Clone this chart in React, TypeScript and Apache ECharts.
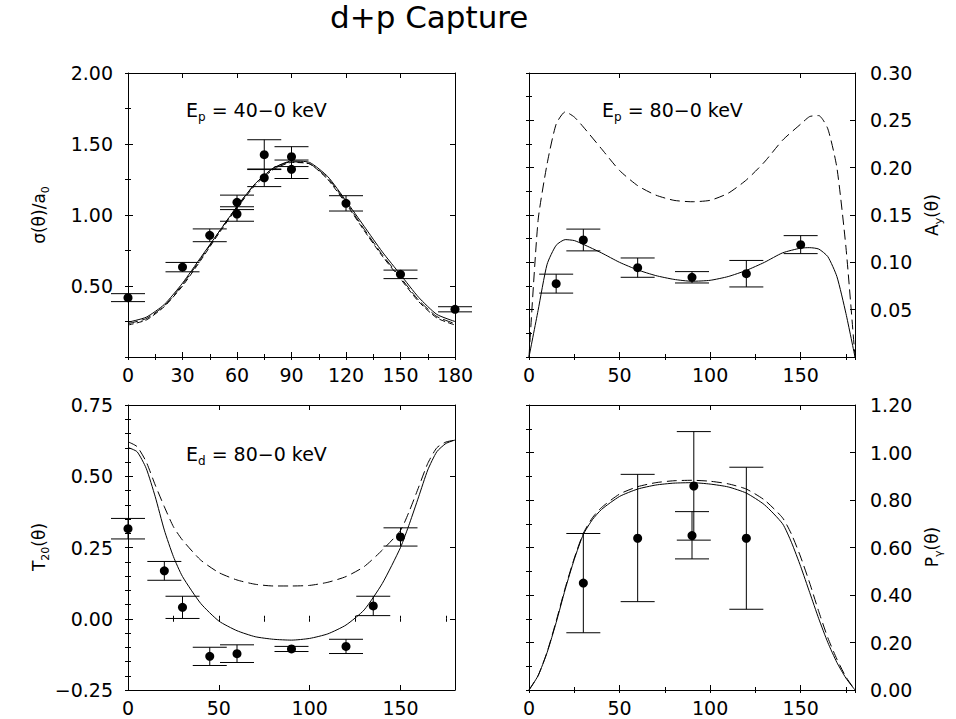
import React, { useEffect, useRef } from 'react';
import * as echarts from 'echarts';

const FONT = 'DejaVu Sans';

// ---------- Panel 1: sigma(theta)/a0, Ep = 40-0 keV ----------
const p1CurveX = [0, 10, 20, 30, 40, 50, 60, 70, 80, 90, 100, 110, 120, 130, 140, 150, 160, 170, 180];
const p1Solid = [0.245, 0.28, 0.37, 0.52, 0.70, 0.88, 1.06, 1.22, 1.33, 1.38, 1.37, 1.27, 1.10, 0.92, 0.74, 0.58, 0.42, 0.30, 0.25];
const p1DashA = [0.235, 0.27, 0.36, 0.51, 0.69, 0.88, 1.06, 1.22, 1.33, 1.375, 1.36, 1.26, 1.09, 0.90, 0.72, 0.56, 0.40, 0.285, 0.235];
const p1DashB = [0.225, 0.26, 0.355, 0.50, 0.68, 0.87, 1.05, 1.21, 1.32, 1.37, 1.36, 1.25, 1.08, 0.89, 0.71, 0.55, 0.39, 0.275, 0.225];
const p1X = [0, 30, 45, 60, 60, 75, 75, 90, 90, 120, 150, 180];
const p1Y = [0.418, 0.633, 0.857, 1.089, 1.007, 1.425, 1.262, 1.411, 1.322, 1.082, 0.582, 0.336];
const p1Err = [0.028, 0.033, 0.045, 0.051, 0.051, 0.105, 0.062, 0.07, 0.065, 0.054, 0.03, 0.018];

// ---------- Panel 2: Ay(theta), Ep = 80-0 keV ----------
const p2CurveX = [0, 5, 10, 15, 20, 25, 30, 40, 50, 60, 70, 80, 90, 100, 110, 120, 130, 140, 150, 155, 160, 165, 170, 175, 180];
const p2Solid = [0, 0.049, 0.098, 0.118, 0.124, 0.123, 0.119, 0.110, 0.100, 0.092, 0.086, 0.082, 0.080, 0.081, 0.085, 0.0915, 0.100, 0.110, 0.115, 0.1155, 0.114, 0.106, 0.085, 0.046, 0];
const p2Dash = [0, 0.144, 0.204, 0.246, 0.259, 0.2535, 0.243, 0.220, 0.197, 0.181, 0.171, 0.1655, 0.164, 0.1655, 0.173, 0.187, 0.206, 0.229, 0.246, 0.254, 0.255, 0.241, 0.200, 0.116, 0];
const p2X = [15, 30, 60, 90, 120, 150];
const p2Y = [0.0775, 0.1236, 0.0944, 0.0842, 0.088, 0.1187];
const p2Err = [0.010, 0.0115, 0.0102, 0.006, 0.014, 0.0095];

// ---------- Panel 3: T20(theta), Ed = 80-0 keV ----------
const p3CurveX = [0, 5, 10, 15, 20, 25, 30, 40, 50, 60, 70, 80, 90, 100, 110, 120, 130, 140, 150, 155, 160, 165, 170, 175, 180];
const p3Solid = [0.601, 0.586, 0.528, 0.428, 0.311, 0.218, 0.148, 0.054, -0.008, -0.042, -0.063, -0.072, -0.075, -0.069, -0.053, -0.022, 0.031, 0.124, 0.250, 0.335, 0.428, 0.522, 0.586, 0.615, 0.627];
const p3Dash = [0.621, 0.604, 0.551, 0.469, 0.393, 0.323, 0.276, 0.206, 0.162, 0.136, 0.121, 0.115, 0.115, 0.117, 0.128, 0.148, 0.183, 0.241, 0.310, 0.380, 0.462, 0.545, 0.600, 0.620, 0.627];
const p3X = [0, 20, 30, 45, 60, 90, 120, 135, 150];
const p3Y = [0.316, 0.168, 0.040, -0.132, -0.1225, -0.106, -0.097, 0.045, 0.287];
const p3Err = [0.036, 0.033, 0.039, 0.032, 0.031, 0.009, 0.025, 0.034, 0.032];

// ---------- Panel 4: Pgamma(theta) ----------
const p4CurveX = [0, 5, 10, 15, 20, 25, 30, 35, 40, 50, 60, 70, 80, 90, 100, 110, 120, 130, 140, 145, 150, 155, 160, 165, 170, 175, 180];
const p4Solid = [0, 0.06, 0.158, 0.284, 0.424, 0.55, 0.655, 0.717, 0.76, 0.815, 0.846, 0.863, 0.871, 0.873, 0.867, 0.855, 0.829, 0.78, 0.70, 0.62, 0.52, 0.41, 0.30, 0.20, 0.116, 0.05, 0];
const p4Dash = [0, 0.06, 0.16, 0.29, 0.43, 0.555, 0.66, 0.725, 0.768, 0.825, 0.856, 0.873, 0.881, 0.883, 0.879, 0.868, 0.846, 0.80, 0.725, 0.655, 0.56, 0.45, 0.33, 0.22, 0.13, 0.055, 0];
const p4X = [30, 60, 90, 91, 120];
const p4Y = [0.45, 0.639, 0.650, 0.859, 0.639];
const p4Lo = [0.241, 0.372, 0.552, 0.631, 0.34];
const p4Hi = [0.659, 0.908, 0.751, 1.088, 0.938];

// Texts
const TITLE = 'd+p Capture';
const ANN1 = [{ t: 'E', s: 19, dy: 0 }, { t: 'p', s: 12, dy: 3.5 }, { t: ' = 40\u22120 keV', s: 19, dy: 0 }];
const ANN2 = [{ t: 'E', s: 19, dy: 0 }, { t: 'p', s: 12, dy: 3.5 }, { t: ' = 80\u22120 keV', s: 19, dy: 0 }];
const ANN3 = [{ t: 'E', s: 19, dy: 0 }, { t: 'd', s: 12, dy: 3.5 }, { t: ' = 80\u22120 keV', s: 19, dy: 0 }];
const NAME1 = [{ t: '\u03c3(\u03b8)/a', s: 17, dy: 0 }, { t: '0', s: 11, dy: 4 }];
const NAME2 = [{ t: 'A', s: 17, dy: 0 }, { t: 'y', s: 11, dy: 4 }, { t: '(\u03b8)', s: 17, dy: 0 }];
const NAME3 = [{ t: 'T', s: 17, dy: 0 }, { t: '20', s: 11, dy: 4 }, { t: '(\u03b8)', s: 17, dy: 0 }];
const NAME4 = [{ t: 'P', s: 17, dy: 0 }, { t: '\u03b3', s: 11, dy: 4 }, { t: '(\u03b8)', s: 17, dy: 0 }];

const zip = (xs: number[], ys: number[]) => xs.map((x, i) => [x, ys[i]]);
const errData = (xs: number[], ys: number[], lo: number[], hi: number[]) =>
  xs.map((x, i) => [x, ys[i], lo[i], hi[i]]);
const symErr = (xs: number[], ys: number[], e: number[]) =>
  errData(xs, ys, ys.map((y, i) => y - e[i]), ys.map((y, i) => y + e[i]));

const BLACK = '#000';

let ctx: CanvasRenderingContext2D | null = null;
function measure(t: string, size: number) {
  if (!ctx) ctx = document.createElement('canvas').getContext('2d');
  if (!ctx) return t.length * size * 0.6;
  ctx.font = `${size}px "${FONT}"`;
  return ctx.measureText(t).width;
}

type Piece = { t: string; s: number; dy: number };
function pieceChildren(pieces: Piece[]) {
  let x = 0;
  return pieces.map((p) => {
    const el = {
      type: 'text', x, y: p.dy,
      style: { text: p.t, fontSize: p.s, fontFamily: FONT, fill: BLACK, verticalAlign: 'bottom', align: 'left' },
    };
    x += measure(p.t, p.s);
    return el;
  });
}
function totalWidth(pieces: Piece[]) {
  return pieces.reduce((a, p) => a + measure(p.t, p.s), 0);
}
function hText(pieces: Piece[], x: number, y: number) {
  return { type: 'group', x, y, children: pieceChildren(pieces) };
}
function vText(pieces: Piece[], x: number, cy: number) {
  const w = totalWidth(pieces);
  return { type: 'group', x, y: cy + w / 2, rotation: Math.PI / 2, children: pieceChildren(pieces) };
}

function xAxes(grid: number, majorInt: number, minorInt: number) {
  const base = { type: 'value', gridIndex: grid, min: 0, max: 180, splitLine: { show: false } };
  const line = { show: true, onZero: false, lineStyle: { color: BLACK, width: 1 } };
  const major = { show: true, inside: true, length: 5, lineStyle: { color: BLACK, width: 1 } };
  const minor = { show: true, inside: true, length: 3, lineStyle: { color: BLACK, width: 1 } };
  return [
    {
      ...base, position: 'bottom', interval: majorInt, axisLine: line, axisTick: major,
      axisLabel: {
        show: true, color: BLACK, fontFamily: FONT, fontSize: 19, margin: 8,
        formatter: (v: number) => (Math.abs(Math.round(v) % majorInt) < 1e-9 ? String(Math.round(v)) : ''),
      },
    },
    { ...base, position: 'bottom', interval: minorInt, axisLine: { show: false }, axisTick: minor, axisLabel: { show: false } },
    { ...base, position: 'top', interval: majorInt, axisLine: line, axisTick: major, axisLabel: { show: false } },
    { ...base, position: 'top', interval: minorInt, axisLine: { show: false }, axisTick: minor, axisLabel: { show: false } },
  ];
}

function yAxes(grid: number, side: 'left' | 'right', min: number, max: number, majorInt: number, minorInt: number,
  hideZero: boolean) {
  const other = side === 'left' ? 'right' : 'left';
  const base = { type: 'value', gridIndex: grid, min, max, splitLine: { show: false } };
  const line = { show: true, onZero: false, lineStyle: { color: BLACK, width: 1 } };
  const major = { show: true, inside: true, length: 5, lineStyle: { color: BLACK, width: 1 } };
  const minor = { show: true, inside: true, length: 3, lineStyle: { color: BLACK, width: 1 } };
  return [
    {
      ...base, position: side, interval: majorInt, axisLine: line, axisTick: major,
      axisLabel: {
        show: true, color: BLACK, fontFamily: FONT, fontSize: 19, margin: 15,
        formatter: (v: number) => {
          if (hideZero && Math.abs(v) < 1e-9) return '';
          const s = Math.abs(v).toFixed(2);
          return v < -1e-9 ? '\u2212' + s : s;
        },
      },
    },
    { ...base, position: side, interval: minorInt, axisLine: { show: false }, axisTick: minor, axisLabel: { show: false } },
    { ...base, position: other, interval: majorInt, axisLine: line, axisTick: major, axisLabel: { show: false } },
    { ...base, position: other, interval: minorInt, axisLine: { show: false }, axisTick: minor, axisLabel: { show: false } },
  ];
}

function lineSeries(grid: number, data: number[][], dash: any) {
  return {
    type: 'line', xAxisIndex: grid * 4, yAxisIndex: grid * 4, data, showSymbol: false, smooth: 0.2,
    lineStyle: { color: BLACK, width: 1, type: dash }, silent: true, z: 2,
  };
}

function errSeries(grid: number, data: number[][]) {
  return {
    type: 'custom', xAxisIndex: grid * 4, yAxisIndex: grid * 4, data, silent: true, z: 3,
    encode: { x: 0, y: [1, 2, 3] },
    renderItem: (_params: any, api: any) => {
      const x = api.value(0);
      const p = api.coord([x, api.value(1)]);
      const lo = api.coord([x, api.value(2)]);
      const hi = api.coord([x, api.value(3)]);
      const w = 17;
      const st = { stroke: BLACK, lineWidth: 1 };
      return {
        type: 'group',
        children: [
          { type: 'line', shape: { x1: lo[0], y1: lo[1], x2: hi[0], y2: hi[1] }, style: st },
          { type: 'line', shape: { x1: lo[0] - w, y1: lo[1], x2: lo[0] + w, y2: lo[1] }, style: st },
          { type: 'line', shape: { x1: hi[0] - w, y1: hi[1], x2: hi[0] + w, y2: hi[1] }, style: st },
          { type: 'circle', shape: { cx: p[0], cy: p[1], r: 4.5 }, style: { fill: BLACK } },
        ],
      };
    },
  };
}

export default function App() {
  const ref = useRef<HTMLDivElement>(null);
  useEffect(() => {
    if (!ref.current) return;
    const chart = echarts.init(ref.current, undefined, { renderer: 'svg' });
    const option: any = {
      animation: false,
      backgroundColor: '#fff',
      grid: [
        { left: 128, top: 73, width: 327, height: 284 },
        { left: 529, top: 73, width: 326, height: 284 },
        { left: 128, top: 405, width: 327, height: 285 },
        { left: 529, top: 405, width: 326, height: 285 },
      ],
      xAxis: [
        ...xAxes(0, 30, 15),
        ...xAxes(1, 50, 25),
        ...xAxes(2, 50, 25),
        ...xAxes(3, 50, 25),
      ],
      yAxis: [
        ...yAxes(0, 'left', 0, 2, 0.5, 0.25, true),
        ...yAxes(1, 'right', 0, 0.3, 0.05, 0.025, true),
        ...yAxes(2, 'left', -0.25, 0.75, 0.25, 0.05, false),
        ...yAxes(3, 'right', 0, 1.2, 0.2, 0.1, false),
      ],
      graphic: [
        {
          type: 'text', x: 330, y: 32,
          style: { text: TITLE, fontFamily: FONT, fontSize: 31, fill: BLACK, verticalAlign: 'bottom', align: 'left' },
        },
        hText(ANN1, 186, 119.5),
        hText(ANN2, 602, 119.5),
        hText(ANN3, 186, 463.5),
        vText(NAME1, 47, 215),
        vText(NAME2, 940, 215),
        vText(NAME3, 47, 547),
        vText(NAME4, 940, 547),
      ],
      series: [
        lineSeries(0, zip(p1CurveX, p1Solid), 'solid'),
        lineSeries(0, zip(p1CurveX, p1DashA), [10, 4]),
        lineSeries(0, zip(p1CurveX, p1DashB), [6, 3]),
        errSeries(0, symErr(p1X, p1Y, p1Err)),
        lineSeries(1, zip(p2CurveX, p2Solid), 'solid'),
        lineSeries(1, zip(p2CurveX, p2Dash), [10, 5]),
        errSeries(1, symErr(p2X, p2Y, p2Err)),
        lineSeries(2, zip(p3CurveX, p3Solid), 'solid'),
        lineSeries(2, zip(p3CurveX, p3Dash), [10, 5]),
        errSeries(2, symErr(p3X, p3Y, p3Err)),
        lineSeries(3, zip(p4CurveX, p4Solid), 'solid'),
        lineSeries(3, zip(p4CurveX, p4Dash), [10, 5]),
        errSeries(3, errData(p4X, p4Y, p4Lo, p4Hi)),
      ],
    };
    chart.setOption(option);
    return () => chart.dispose();
  }, []);
  return <div ref={ref} style={{ position: 'absolute', left: 0, top: 0, width: 956, height: 719 }} />;
}
